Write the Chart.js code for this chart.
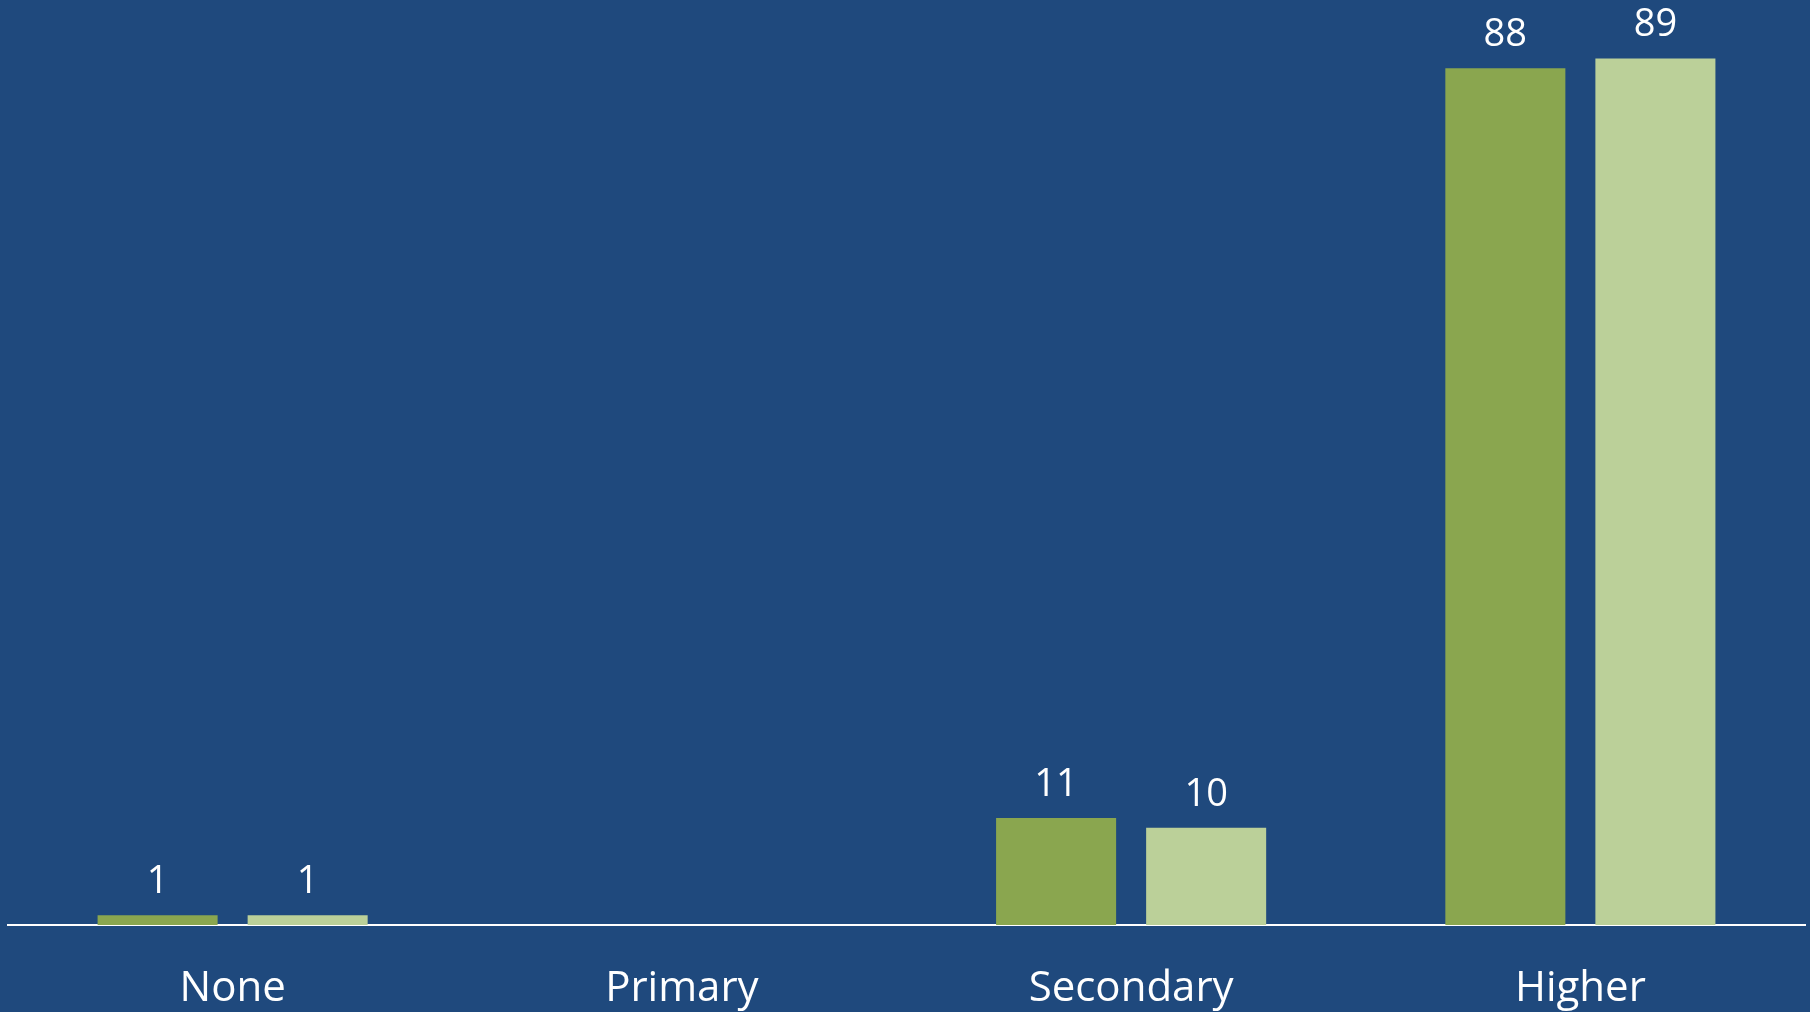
<!DOCTYPE html>
<html>
<head>
<meta charset="utf-8">
<script src="https://cdn.jsdelivr.net/npm/chart.js@4/dist/chart.umd.min.js"></script>
<style>
  html, body { margin: 0; padding: 0; background: #1F497D; }
  canvas { display: block; }
</style>
</head>
<body>
<canvas id="eduChart" width="1810" height="1012"></canvas>
<script>
const categories = ['None', 'Primary', 'Secondary', 'Higher'];
const seriesA = [1, 0, 11, 88];
const seriesB = [1, 0, 10, 89];

// draws the value above each bar (skips empty ones)
const valueLabels = {
  id: 'valueLabels',
  afterDatasetsDraw(chart) {
    const ctx = chart.ctx;
    ctx.save();
    ctx.fillStyle = '#ffffff';
    ctx.font = '38px "Open Sans"';
    ctx.textAlign = 'center';
    ctx.textBaseline = 'alphabetic';
    chart.data.datasets.forEach((ds, i) => {
      chart.getDatasetMeta(i).data.forEach((bar, j) => {
        const v = ds.data[j];
        if (!v) return;
        ctx.fillText(String(v), bar.x, bar.y - 22);
      });
    });
    ctx.restore();
  }
};

const ctx = document.getElementById('eduChart').getContext('2d');
new Chart(ctx, {
  type: 'bar',
  data: {
    labels: categories,
    datasets: [
      {
        label: 'A',
        data: seriesA,
        backgroundColor: '#8AA64F'
      },
      {
        label: 'B',
        data: seriesB,
        backgroundColor: '#BBD099'
      }
    ]
  },
  options: {
    responsive: false,
    animation: false,
    layout: { padding: { left: 8, right: 5, top: 0, bottom: 0 } },
    categoryPercentage: 0.668,
    barPercentage: 0.8,
    plugins: {
      legend: { display: false },
      tooltip: { enabled: false }
    },
    scales: {
      x: {
        grid: { display: false, drawTicks: false },
        border: { display: true, color: '#ffffff', width: 2 },
        ticks: {
          color: '#ffffff',
          font: { family: 'Open Sans', size: 42 },
          padding: 39
        },
        afterFit: (scale) => { scale.height = 87; }
      },
      y: {
        display: false,
        min: 0,
        max: 95
      }
    }
  },
  plugins: [valueLabels]
});
</script>
</body>
</html>
